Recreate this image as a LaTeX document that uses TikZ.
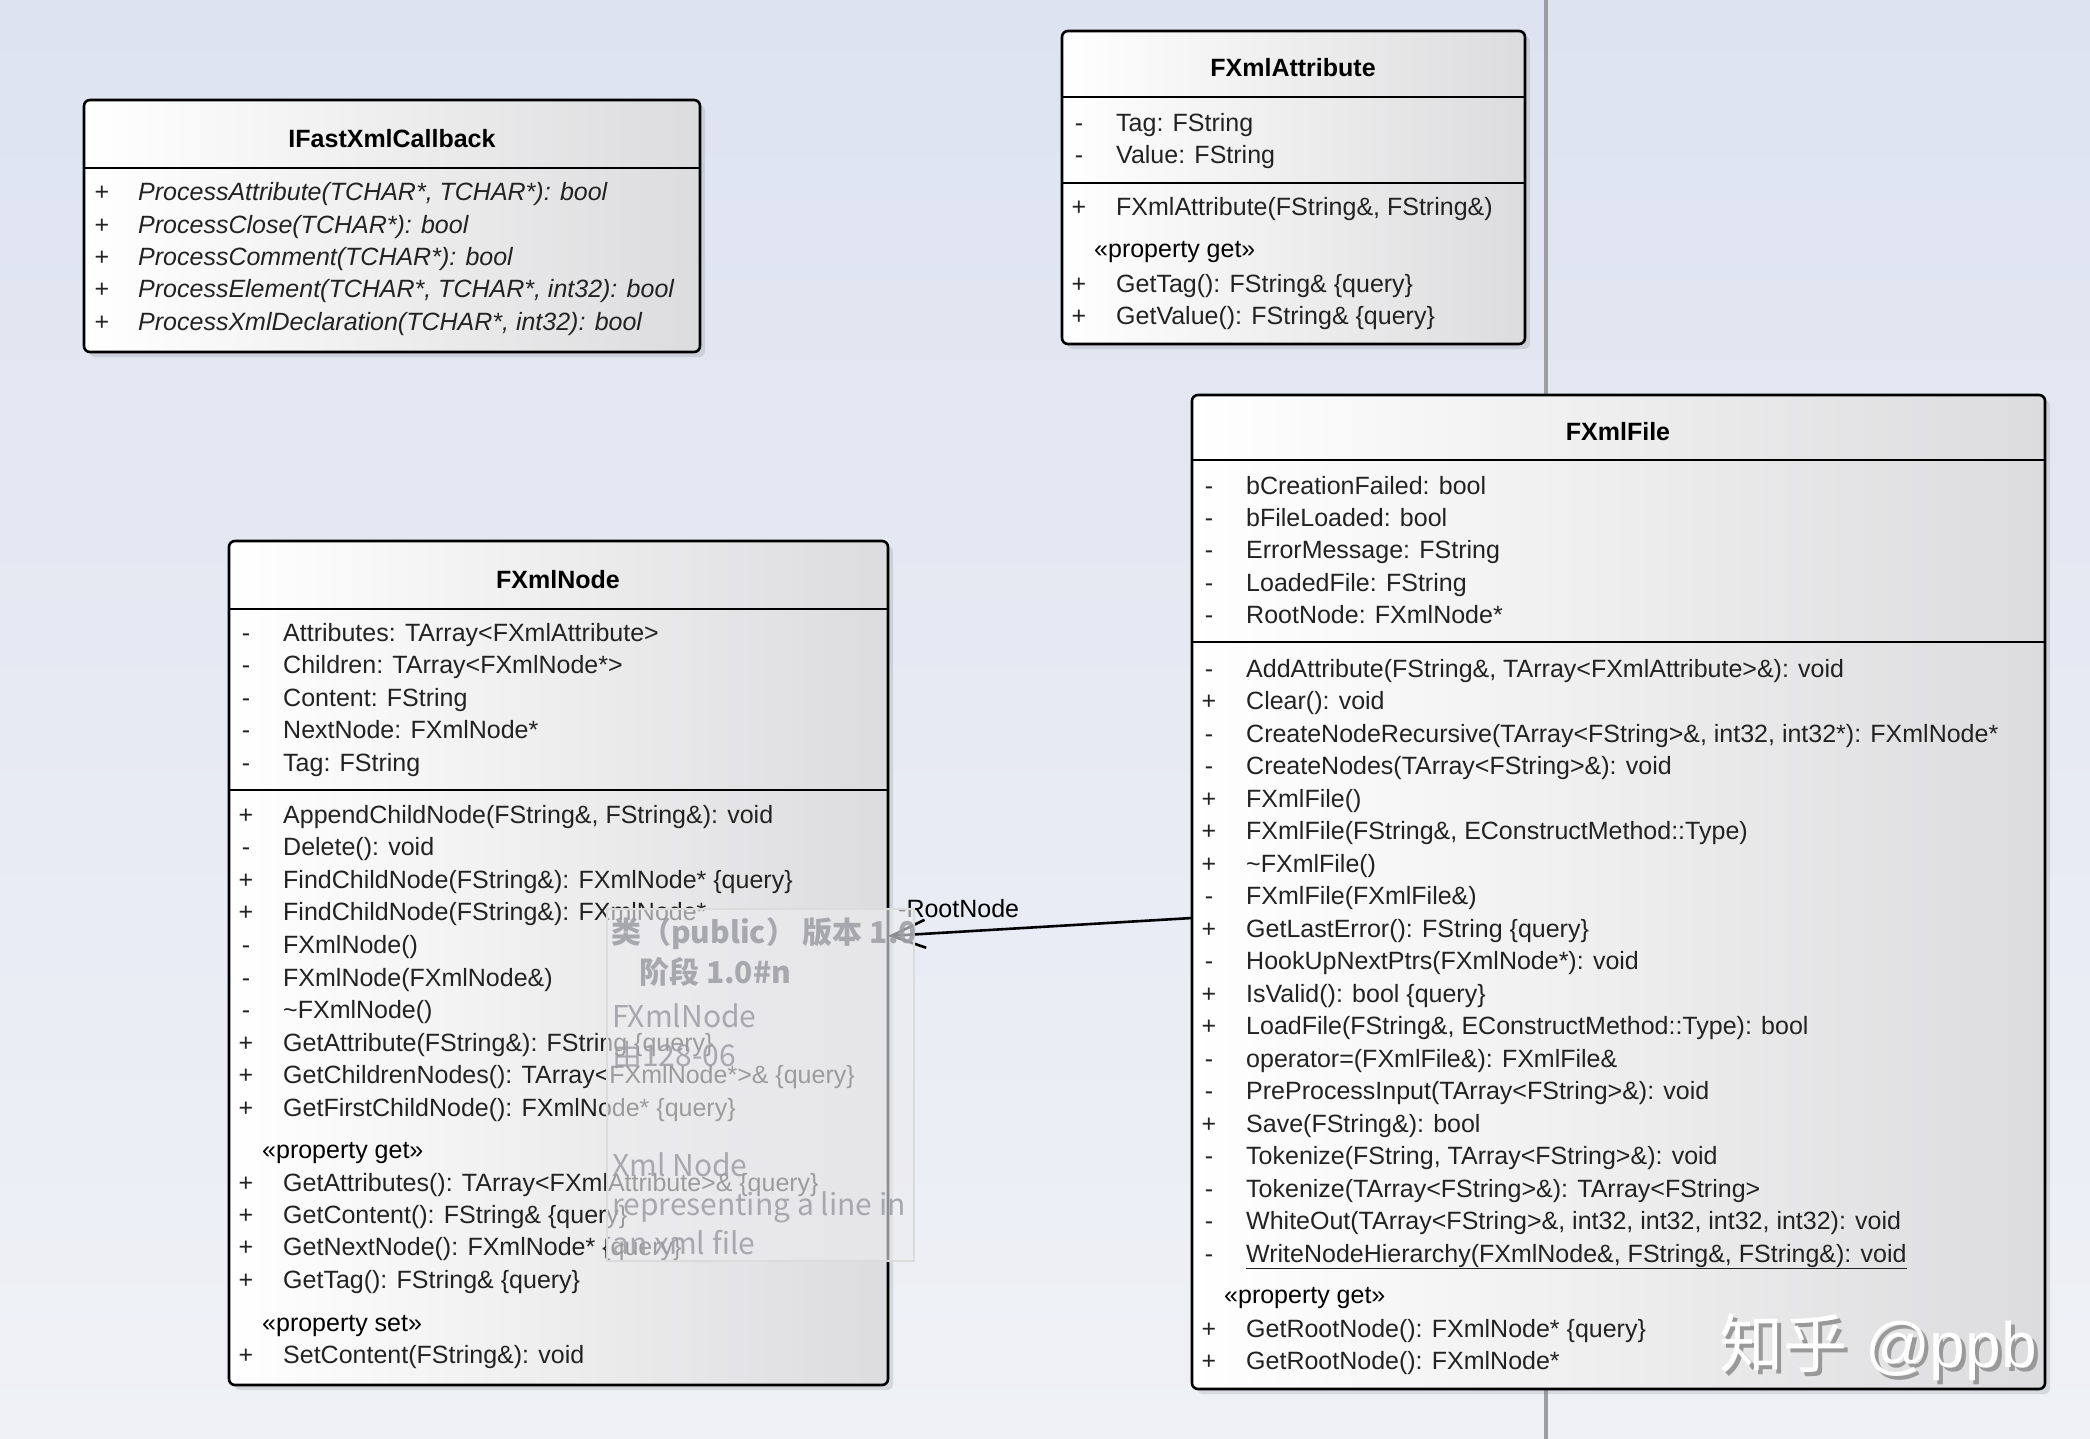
\documentclass[tikz,border=0pt]{standalone}
\usepackage{fontspec}
\setmainfont{Liberation Sans}
\newfontfamily\cjkfont{Noto Sans CJK SC}
\usepackage{tikz}
\usetikzlibrary{arrows.meta, shadows, positioning}
\definecolor{canvastop}{RGB}{221,227,240}
\definecolor{canvasbot}{RGB}{239,241,246}
\definecolor{boxgray}{RGB}{220,220,222}
\definecolor{divgray}{RGB}{158,158,162}
\definecolor{tipgray}{RGB}{156,156,164}
\definecolor{tipfill}{RGB}{236,236,238}
\definecolor{inktext}{RGB}{34,34,34}

\begin{document}
\begin{tikzpicture}[x=1pt, y=-1pt,
    classbox/.style={draw=black, line width=2.6pt, rounded corners=6pt,
        left color=white, right color=boxgray, anchor=north west,
        inner sep=0pt, outer sep=0pt,
        drop shadow={shadow xshift=5pt, shadow yshift=-5pt, opacity=0.22}},
    sepline/.style={line width=2.6pt},
    title/.style={font=\fontsize{25}{30}\selectfont\bfseries, anchor=base, inner sep=0pt},
    member/.style={font=\fontsize{25}{30}\selectfont, text=inktext, anchor=base west, inner sep=0pt},
    abstract/.style={member, font=\fontsize{25}{30}\selectfont\itshape},
    vis/.style={font=\fontsize{25}{30}\selectfont, text=inktext, anchor=base, inner sep=0pt},
    stereo/.style={font=\fontsize{25}{30}\selectfont, anchor=base west, inner sep=0pt},
    assoc/.style={line width=2.6pt, -{Straight Barb[length=34pt, width=28pt]}},
    tipbox/.style={draw=black!14, line width=1.5pt, fill=tipfill, fill opacity=0.6,
        anchor=north west, inner sep=0pt},
    tiptext/.style={font=\cjkfont\fontsize{30}{36}\selectfont, text=tipgray,
        text opacity=0.85, anchor=base west, inner sep=0pt},
    wmtext/.style={font=\fontsize{64}{70}\selectfont, anchor=base west, inner sep=0pt}
]
\useasboundingbox (0,0) rectangle (2090,1439);
\shade[top color=canvastop, bottom color=canvasbot] (0,0) rectangle (2090,1439);
\draw[divgray, line width=4pt] (1546,0) -- (1546,1439);

% IFastXmlCallback
\node[classbox, minimum width=616pt, minimum height=252pt] (callback) at (84,100) {};
\draw[sepline] (84,168) -- (700,168);
\node[title] (callback-name) at (392,148) {IFastXmlCallback};
\foreach \t [count=\i from 0] in {{ProcessAttribute(TCHAR*, TCHAR*): bool},
    {ProcessClose(TCHAR*): bool}, {ProcessComment(TCHAR*): bool},
    {ProcessElement(TCHAR*, TCHAR*, int32): bool},
    {ProcessXmlDeclaration(TCHAR*, int32): bool}} {
  \node[vis] (callback-v\i) at (102,{201+32.3*\i}) {+};
  \node[abstract] (callback-op\i) at (138,{201+32.3*\i}) {\t};
}

% FXmlAttribute
\node[classbox, minimum width=463pt, minimum height=313pt] (attribute) at (1062,31) {};
\draw[sepline] (1062,97) -- (1525,97);
\draw[sepline] (1062,183) -- (1525,183);
\node[title] (attribute-name) at (1293,77) {FXmlAttribute};
\foreach \v/\t [count=\i from 0] in {-/{Tag: FString}, -/{Value: FString}} {
  \node[vis] (attribute-av\i) at (1079,{132+32*\i}) {\v};
  \node[member] (attribute-at\i) at (1116,{132+32*\i}) {\t};
}
\node[vis] (attribute-v0) at (1079,216) {+};
\node[member] (attribute-op0) at (1116,216) {FXmlAttribute(FString\&, FString\&)};
\node[stereo] (attribute-get) at (1094,258) {«property get»};
\foreach \v/\t [count=\i from 1] in {+/{GetTag(): FString\& \{query\}},
    +/{GetValue(): FString\& \{query\}}} {
  \node[vis] (attribute-v\i) at (1079,{260+32*\i}) {\v};
  \node[member] (attribute-op\i) at (1116,{260+32*\i}) {\t};
}

% FXmlFile
\node[classbox, minimum width=853pt, minimum height=994pt] (xmlfile) at (1192,395) {};
\draw[sepline] (1192,460) -- (2045,460);
\draw[sepline] (1192,642) -- (2045,642);
\node[title] (xmlfile-name) at (1618,440) {FXmlFile};
\foreach \t [count=\i from 0] in {{bCreationFailed: bool}, {bFileLoaded: bool},
    {ErrorMessage: FString}, {LoadedFile: FString}, {RootNode: FXmlNode*}} {
  \node[vis] (xmlfile-av\i) at (1209,{494+32.4*\i}) {-};
  \node[member] (xmlfile-at\i) at (1246,{494+32.4*\i}) {\t};
}
\foreach \v/\t [count=\i from 0] in {
    -/{AddAttribute(FString\&, TArray<FXmlAttribute>\&): void},
    +/{Clear(): void},
    -/{CreateNodeRecursive(TArray<FString>\&, int32, int32*): FXmlNode*},
    -/{CreateNodes(TArray<FString>\&): void},
    +/{FXmlFile()},
    +/{FXmlFile(FString\&, EConstructMethod::Type)},
    +/{\textasciitilde FXmlFile()},
    -/{FXmlFile(FXmlFile\&)},
    +/{GetLastError(): FString \{query\}},
    -/{HookUpNextPtrs(FXmlNode*): void},
    +/{IsValid(): bool \{query\}},
    +/{LoadFile(FString\&, EConstructMethod::Type): bool},
    -/{operator=(FXmlFile\&): FXmlFile\&},
    -/{PreProcessInput(TArray<FString>\&): void},
    +/{Save(FString\&): bool},
    -/{Tokenize(FString, TArray<FString>\&): void},
    -/{Tokenize(TArray<FString>\&): TArray<FString>},
    -/{WhiteOut(TArray<FString>\&, int32, int32, int32, int32): void},
    -/{\underline{WriteNodeHierarchy(FXmlNode\&, FString\&, FString\&): void}}} {
  \node[vis] (xmlfile-v\i) at (1209,{677+32.5*\i}) {\v};
  \node[member] (xmlfile-op\i) at (1246,{677+32.5*\i}) {\t};
}
\node[stereo] (xmlfile-get) at (1224,1303) {«property get»};
\foreach \t [count=\i from 0] in {{GetRootNode(): FXmlNode* \{query\}},
    {GetRootNode(): FXmlNode*}} {
  \node[vis] (xmlfile-g\i) at (1209,{1337+32*\i}) {+};
  \node[member] (xmlfile-get\i) at (1246,{1337+32*\i}) {\t};
}

% FXmlNode
\node[classbox, minimum width=659pt, minimum height=844pt] (xmlnode) at (229,541) {};
\draw[sepline] (229,609) -- (888,609);
\draw[sepline] (229,790) -- (888,790);
\node[title] (xmlnode-name) at (558,588) {FXmlNode};
\foreach \t [count=\i from 0] in {{Attributes: TArray<FXmlAttribute>},
    {Children: TArray<FXmlNode*>}, {Content: FString},
    {NextNode: FXmlNode*}, {Tag: FString}} {
  \node[vis] (xmlnode-av\i) at (246,{641+32.5*\i}) {-};
  \node[member] (xmlnode-at\i) at (283,{641+32.5*\i}) {\t};
}
\foreach \v/\t [count=\i from 0] in {
    +/{AppendChildNode(FString\&, FString\&): void},
    -/{Delete(): void},
    +/{FindChildNode(FString\&): FXmlNode* \{query\}},
    +/{FindChildNode(FString\&): FXmlNode*},
    -/{FXmlNode()},
    -/{FXmlNode(FXmlNode\&)},
    -/{\textasciitilde FXmlNode()},
    +/{GetAttribute(FString\&): FString \{query\}},
    +/{GetChildrenNodes(): TArray<FXmlNode*>\& \{query\}},
    +/{GetFirstChildNode(): FXmlNode* \{query\}}} {
  \node[vis] (xmlnode-v\i) at (246,{823+32.6*\i}) {\v};
  \node[member] (xmlnode-op\i) at (283,{823+32.6*\i}) {\t};
}
\node[stereo] (xmlnode-get) at (262,1158) {«property get»};
\foreach \t [count=\i from 0] in {{GetAttributes(): TArray<FXmlAttribute>\& \{query\}},
    {GetContent(): FString\& \{query\}}, {GetNextNode(): FXmlNode* \{query\}},
    {GetTag(): FString\& \{query\}}} {
  \node[vis] (xmlnode-g\i) at (246,{1191+32.4*\i}) {+};
  \node[member] (xmlnode-get\i) at (283,{1191+32.4*\i}) {\t};
}
\node[stereo] (xmlnode-set) at (262,1331) {«property set»};
\node[vis] (xmlnode-s0) at (246,1363) {+};
\node[member] (xmlnode-set0) at (283,1363) {SetContent(FString\&): void};

% association
\coordinate (root-from) at ([yshift=-523pt]xmlfile.north west);
\coordinate (root-to) at ([yshift=-395pt]xmlnode.north east);
\draw[assoc] (root-from) -- (root-to);
\node[member, text=black] (root-label) at (898,917) {-RootNode};

% hover tip over FXmlNode
\node[tipbox, minimum width=307pt, minimum height=352pt] (tooltip) at (606,908) {};
\node[tiptext, font=\cjkfont\fontsize{30}{36}\selectfont\bfseries] (tip-kind) at (611,943) {类（public） 版本 1.0};
\node[tiptext, font=\cjkfont\fontsize{30}{36}\selectfont\bfseries] (tip-phase) at (639,983) {阶段 1.0\#n};
\node[tiptext] (tip-name) at (612,1027) {FXmlNode};
\node[tiptext] (tip-by) at (612,1066) {由128-06};
\node[tiptext] (tip-note1) at (612,1176) {Xml Node};
\node[tiptext] (tip-note2) at (612,1215) {representing a line in};
\node[tiptext] (tip-note3) at (612,1254) {an xml file};

% watermark
\node[wmtext, text=black!40] (watermark-shade) at (1723,1371) {{\cjkfont 知乎} @ppb};
\node[wmtext, text=white] (watermark) at (1719,1367) {{\cjkfont 知乎} @ppb};
\end{tikzpicture}
\end{document}
